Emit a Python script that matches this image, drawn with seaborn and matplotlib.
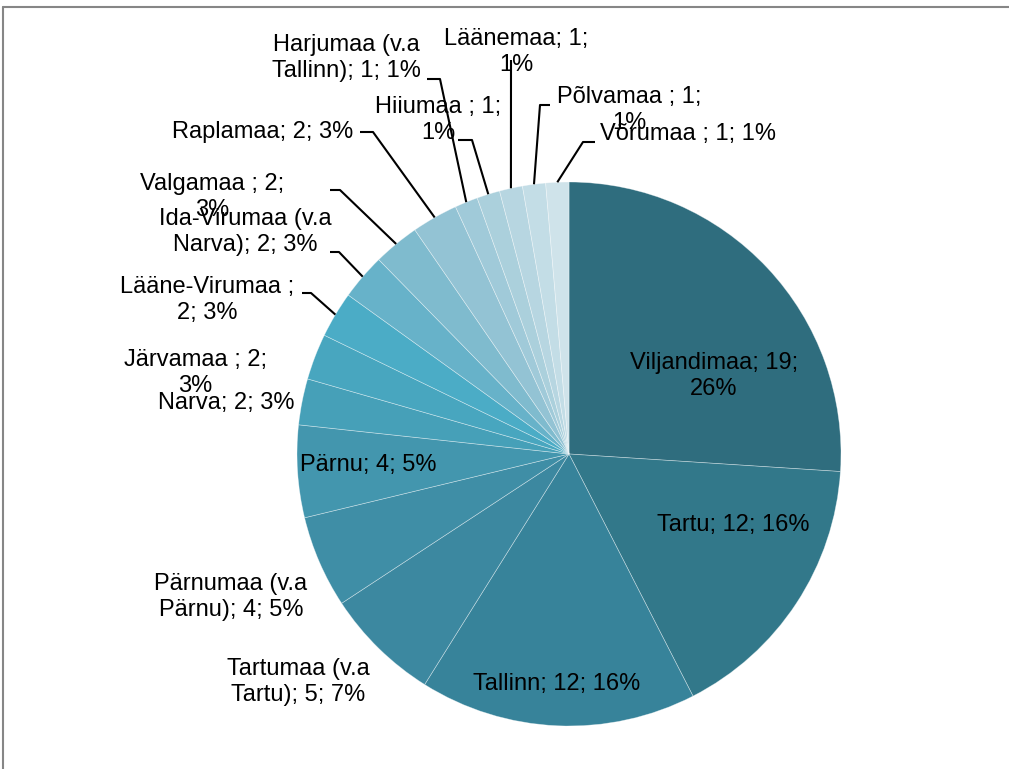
import numpy as np
import matplotlib
matplotlib.use("Agg")
import matplotlib.pyplot as plt
import seaborn as sns
from matplotlib.lines import Line2D

sns.set_theme(style="white")
plt.rcParams['font.family'] = ['Liberation Sans', 'DejaVu Sans']

categories = ["Viljandimaa", "Tartu", "Tallinn", "Tartumaa (v.a Tartu)", "Pärnumaa (v.a Pärnu)",
              "Pärnu", "Narva", "Järvamaa ", "Lääne-Virumaa ", "Ida-Virumaa (v.a Narva)",
              "Valgamaa ", "Raplamaa", "Harjumaa (v.a Tallinn)", "Hiiumaa ", "Läänemaa",
              "Põlvamaa ", "Võrumaa "]
values = [19, 12, 12, 5, 4, 4, 2, 2, 2, 2, 2, 2, 1, 1, 1, 1, 1]
labels = ["Viljandimaa; 19;\n26%", "Tartu; 12; 16%", "Tallinn; 12; 16%",
          "Tartumaa (v.a\nTartu); 5; 7%", "Pärnumaa (v.a\nPärnu); 4; 5%", "Pärnu; 4; 5%",
          "Narva; 2; 3%", "Järvamaa ; 2;\n3%", "Lääne-Virumaa ;\n2; 3%",
          "Ida-Virumaa (v.a\nNarva); 2; 3%", "Valgamaa ; 2;\n3%", "Raplamaa; 2; 3%",
          "Harjumaa (v.a\nTallinn); 1; 1%", "Hiiumaa ; 1;\n1%", "Läänemaa; 1;\n1%",
          "Põlvamaa ; 1;\n1%", "Võrumaa ; 1; 1%"]
colors = ["#2F6D7E", "#32788A", "#37839A", "#3C88A0", "#3F8EA6", "#4396AE", "#46A0B8",
          "#48A6BF", "#4BACC6", "#67B2C9", "#7FBBCE", "#93C3D4", "#A0CAD9", "#ABD0DC",
          "#B7D6E1", "#C3DDE6", "#CFE3EA"]

W, H = 1009, 769
fig = plt.figure(figsize=(W / 100, H / 100), dpi=100)
fig.patch.set_facecolor("white")
ax = fig.add_axes([0, 0, 1, 1])

cx, cy_pix, R = 569, 454, 272
cy = H - cy_pix

ax.pie(values, colors=colors, startangle=90, counterclock=False,
       center=(cx, cy), radius=R,
       wedgeprops=dict(edgecolor=(1, 1, 1, 0.45), linewidth=0.5))
ax.set_xlim(0, W)
ax.set_ylim(0, H)
ax.set_aspect("auto")
ax.axis("off")

# label positions (pixel coords, center of text)
label_pos = [(714, 376), (733, 525), (557, 684), (298, 682), (231, 597), (368, 465),
             (226, 403), (195, 373), (207, 300), (245, 232), (212, 197), (263, 132),
             (346, 58), (438, 120), (516, 52), (629, 110), (688, 134)]
# leader elbows (pixel coords); the leader then runs to the slice edge
leaders = {8: [(302, 293), (311, 293)],
           9: [(330, 252), (339, 252)],
           10: [(330, 190), (340, 190)],
           11: [(360, 132), (373, 132)],
           12: [(427, 79), (440, 79)],
           13: [(458, 140), (472, 140)],
           14: [(511, 60), (511, 66)],
           15: [(550, 105), (540, 105)],
           16: [(595, 142), (583, 142)]}

total = sum(values)
cum = np.cumsum([0] + values[:-1])
for i, (lab, (px, py)) in enumerate(zip(labels, label_pos)):
    ax.text(px, H - py, lab, ha="center", va="center", fontsize=17,
            color="black", linespacing=1.25, multialignment="center", zorder=5)
    if i in leaders:
        mid = (cum[i] + values[i] / 2) / total
        ang = np.deg2rad(90 - 360 * mid)
        ex = cx + R * np.cos(ang)
        ey = cy + R * np.sin(ang)
        pts = leaders[i]
        xs = [p[0] for p in pts] + [ex]
        ys = [H - p[1] for p in pts] + [ey]
        ax.plot(xs, ys, color="black", linewidth=1.5, solid_capstyle="butt", zorder=4)

# outer frame (top and left only visible)
fig.add_artist(Line2D([3 / W, 1], [1 - 7 / H, 1 - 7 / H], transform=fig.transFigure,
                      color="#868686", linewidth=1.5))
fig.add_artist(Line2D([3 / W, 3 / W], [0, 1 - 7 / H], transform=fig.transFigure,
                      color="#868686", linewidth=1.5))

fig.savefig("out.png", dpi=100, facecolor="white")
